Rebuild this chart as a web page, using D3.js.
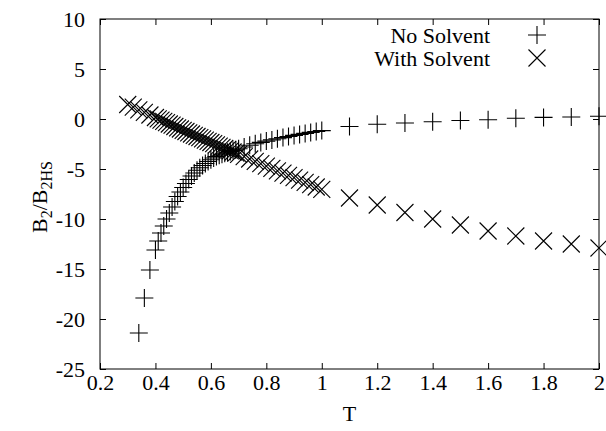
<!DOCTYPE html>
<html>
<head>
<meta charset="utf-8">
<script src="https://cdn.jsdelivr.net/npm/d3@7/dist/d3.min.js"></script>
<style>
  html, body { margin: 0; padding: 0; background: #fff; }
  svg { display: block; }
  text { font-family: "Liberation Serif", "Times New Roman", serif; fill: #000; }
</style>
</head>
<body>
<div id="chart"></div>
<script>
// Reduced second virial coefficient vs. reduced temperature
const tNoSolvent = [
  0.34, 0.36, 0.38, 0.40,
  0.41, 0.42, 0.43, 0.44, 0.45, 0.46, 0.47, 0.48, 0.49, 0.50,
  0.51, 0.52, 0.53, 0.54, 0.55, 0.56, 0.57, 0.58, 0.59, 0.60,
  0.61, 0.62, 0.63, 0.64, 0.65, 0.66, 0.67, 0.68, 0.69,
  0.70, 0.72, 0.74, 0.76, 0.78, 0.80, 0.82, 0.84, 0.86, 0.88,
  0.90, 0.92, 0.94, 0.96, 0.98, 1.00,
  1.1, 1.2, 1.3, 1.4, 1.5, 1.6, 1.7, 1.8, 1.9, 2.0
];
const bNoSolvent = [
  -21.4, -17.9, -15.1, -13.1,
  -12.2, -11.4, -10.7, -10.0, -9.4, -8.8, -8.25, -7.75, -7.3, -6.85,
  -6.45, -6.05, -5.7, -5.4, -5.12, -4.88, -4.65, -4.45, -4.25, -4.07,
  -3.9, -3.76, -3.63, -3.52, -3.42, -3.33, -3.24, -3.15, -3.07,
  -2.98, -2.8, -2.63, -2.48, -2.34, -2.21, -2.09, -1.97, -1.86, -1.75,
  -1.64, -1.54, -1.44, -1.34, -1.25, -1.16,
  -0.75, -0.52, -0.4, -0.27, -0.15, -0.07, 0.08, 0.16, 0.2, 0.28
];

const tWithSolvent = [
  0.30, 0.32, 0.34, 0.36, 0.38, 0.40,
  0.41, 0.42, 0.43, 0.44, 0.45, 0.46, 0.47, 0.48, 0.49, 0.50,
  0.51, 0.52, 0.53, 0.54, 0.55, 0.56, 0.57, 0.58, 0.59, 0.60,
  0.61, 0.62, 0.63, 0.64, 0.65, 0.66, 0.67, 0.68, 0.69,
  0.70, 0.72, 0.74, 0.76, 0.78, 0.80, 0.82, 0.84, 0.86, 0.88,
  0.90, 0.92, 0.94, 0.96, 0.98, 1.00,
  1.1, 1.2, 1.3, 1.4, 1.5, 1.6, 1.7, 1.8, 1.9, 2.0
];
const bWithSolvent = [
  1.45, 1.18, 0.92, 0.66, 0.4, 0.15,
  0.02, -0.11, -0.24, -0.37, -0.5, -0.62, -0.75, -0.88, -1.0, -1.13,
  -1.25, -1.38, -1.5, -1.63, -1.75, -1.87, -1.99, -2.11, -2.23, -2.35,
  -2.47, -2.59, -2.71, -2.83, -2.95, -3.06, -3.18, -3.3, -3.41,
  -3.53, -3.77, -4.0, -4.24, -4.47, -4.71, -4.94, -5.18, -5.41, -5.64,
  -5.87, -6.11, -6.34, -6.57, -6.8, -7.03,
  -7.9, -8.6, -9.35, -10.0, -10.6, -11.2, -11.7, -12.2, -12.5, -12.9
];

const xTickValues = [0.2, 0.4, 0.6, 0.8, 1, 1.2, 1.4, 1.6, 1.8, 2];
const xTickLabels = ["0.2", "0.4", "0.6", "0.8", "1", "1.2", "1.4", "1.6", "1.8", "2"];
const yTickValues = [10, 5, 0, -5, -10, -15, -20, -25];
const yTickLabels = ["10", "5", "0", "-5", "-10", "-15", "-20", "-25"];
const seriesNames = ["No Solvent", "With Solvent"];

const W = 606, H = 431;
const plot = { left: 100, right: 599, top: 19, bottom: 369 };

const svg = d3.select("#chart").append("svg")
  .attr("width", W).attr("height", H);

const x = d3.scaleLinear().domain([0.2, 2]).range([plot.left, plot.right]);
const y = d3.scaleLinear().domain([-25, 10]).range([plot.bottom, plot.top]);

const fontSize = 22;
const tick = 6;

// Axes: ticks point inward on all four sides, labels only on left and bottom
const fmtX = d => xTickLabels[xTickValues.indexOf(d)];
const fmtY = d => yTickLabels[yTickValues.indexOf(d)];

function styleAxis(g) {
  g.select(".domain").remove();
  g.selectAll("line").attr("stroke", "#000").attr("stroke-width", 1);
  g.selectAll("text").attr("font-size", fontSize)
    .attr("font-family", '"Liberation Serif", serif').attr("fill", "#000");
}

svg.append("g")
  .attr("transform", `translate(0,${plot.bottom})`)
  .call(d3.axisBottom(x).tickValues(xTickValues).tickFormat(fmtX)
    .tickSizeInner(-tick).tickSizeOuter(0).tickPadding(5))
  .call(styleAxis);

svg.append("g")
  .attr("transform", `translate(0,${plot.top})`)
  .call(d3.axisTop(x).tickValues(xTickValues).tickFormat("")
    .tickSizeInner(-tick).tickSizeOuter(0))
  .call(styleAxis);

svg.append("g")
  .attr("transform", `translate(${plot.left},0)`)
  .call(d3.axisLeft(y).tickValues(yTickValues).tickFormat(fmtY)
    .tickSizeInner(-tick).tickSizeOuter(0).tickPadding(15))
  .call(styleAxis);

svg.append("g")
  .attr("transform", `translate(${plot.right},0)`)
  .call(d3.axisRight(y).tickValues(yTickValues).tickFormat("")
    .tickSizeInner(-tick).tickSizeOuter(0))
  .call(styleAxis);

// Frame
svg.append("rect")
  .attr("x", plot.left).attr("y", plot.top)
  .attr("width", plot.right - plot.left).attr("height", plot.bottom - plot.top)
  .attr("fill", "none").attr("stroke", "#000").attr("stroke-width", 1);

// Axis titles
svg.append("text")
  .attr("x", (plot.left + plot.right) / 2).attr("y", 421)
  .attr("text-anchor", "middle").attr("font-size", fontSize)
  .text("T");

const yTitle = svg.append("text")
  .attr("transform", "translate(47,197) rotate(-90)")
  .attr("text-anchor", "middle").attr("font-size", fontSize);
yTitle.append("tspan").text("B");
yTitle.append("tspan").attr("font-size", 16).attr("dy", 5).text("2");
yTitle.append("tspan").attr("dy", -5).text("/B");
yTitle.append("tspan").attr("font-size", 16).attr("dy", 5).text("2HS");

// Marker path generators
const plusSize = 9, crossSize = 8.5;
const plusPath = (cx, cy) =>
  `M${cx - plusSize},${cy}H${cx + plusSize}M${cx},${cy - plusSize}V${cy + plusSize}`;
const crossPath = (cx, cy) =>
  `M${cx - crossSize},${cy - crossSize}L${cx + crossSize},${cy + crossSize}` +
  `M${cx - crossSize},${cy + crossSize}L${cx + crossSize},${cy - crossSize}`;

const noSolvent = tNoSolvent.map((t, i) => ({ t, b: bNoSolvent[i] }));
const withSolvent = tWithSolvent.map((t, i) => ({ t, b: bWithSolvent[i] }));

svg.append("g").selectAll("path").data(noSolvent).join("path")
  .attr("d", d => plusPath(x(d.t), y(d.b)))
  .attr("stroke", "#000").attr("stroke-width", 1.1).attr("fill", "none");

svg.append("g").selectAll("path").data(withSolvent).join("path")
  .attr("d", d => crossPath(x(d.t), y(d.b)))
  .attr("stroke", "#000").attr("stroke-width", 1.1).attr("fill", "none");

// Legend
const legend = svg.append("g");
const legendRows = [
  { name: seriesNames[0], y: 35, marker: plusPath },
  { name: seriesNames[1], y: 58, marker: crossPath }
];
legendRows.forEach(r => {
  legend.append("text")
    .attr("x", 490).attr("y", r.y).attr("dy", "0.35em")
    .attr("text-anchor", "end").attr("font-size", fontSize)
    .text(r.name);
  legend.append("path")
    .attr("d", r.marker(537, r.y))
    .attr("stroke", "#000").attr("stroke-width", 1.1).attr("fill", "none");
});
</script>
</body>
</html>
